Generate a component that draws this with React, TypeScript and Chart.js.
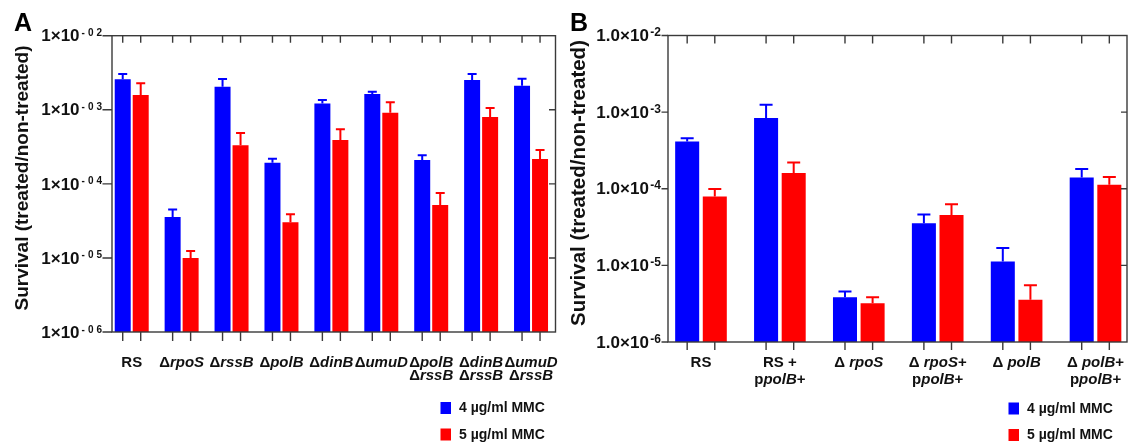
import { useEffect, useRef } from "react";
import { Chart, registerables } from "chart.js";

Chart.register(...registerables);

const FONT = '"Liberation Sans", Arial, sans-serif';

// ---------- Panel A data ----------
const categoriesA: string[][] = [
  ["RS"],
  ["Δ_rpoS_"],
  ["Δ_rssB_"],
  ["Δ_polB_"],
  ["Δ_dinB_"],
  ["Δ_umuD_"],
  ["Δ_polB_", "Δ_rssB_"],
  ["Δ_dinB_", "Δ_rssB_"],
  ["Δ_umuD_", "Δ_rssB_"],
];
const survivalA4 = [2.58e-3, 3.56e-5, 2.05e-3, 1.93e-4, 1.22e-3, 1.63e-3, 2.1e-4, 2.52e-3, 2.11e-3];
const survivalA4Upper = [3.04e-3, 4.5e-5, 2.6e-3, 2.19e-4, 1.36e-3, 1.75e-3, 2.43e-4, 3.04e-3, 2.63e-3];
const survivalA5 = [1.58e-3, 1.0e-5, 3.32e-4, 3.04e-5, 3.91e-4, 9.14e-4, 5.19e-5, 8.0e-4, 2.17e-4];
const survivalA5Upper = [2.28e-3, 1.24e-5, 4.86e-4, 3.9e-5, 5.46e-4, 1.26e-3, 7.5e-5, 1.06e-3, 2.87e-4];

// ---------- Panel B data ----------
const categoriesB: string[][] = [
  ["RS"],
  ["RS +", "p_polB_+"],
  ["Δ _rpoS_"],
  ["Δ _rpoS_+", "p_polB_+"],
  ["Δ _polB_"],
  ["Δ _polB_+", "p_polB_+"],
];
const survivalB4 = [4.15e-4, 8.4e-4, 3.85e-6, 3.55e-5, 1.12e-5, 1.4e-4];
const survivalB4Upper = [4.55e-4, 1.25e-3, 4.55e-6, 4.6e-5, 1.68e-5, 1.81e-4];
const survivalB5 = [7.9e-5, 1.6e-4, 3.2e-6, 4.55e-5, 3.55e-6, 1.13e-4];
const survivalB5Upper = [9.9e-5, 2.2e-4, 3.85e-6, 6.3e-5, 5.5e-6, 1.42e-4];

// ---------- Axis / legend text ----------
const yTickValues = [1e-2, 1e-3, 1e-4, 1e-5, 1e-6];
const yTickMainA = "1×10";
const yTickExpA = ["-02", "-03", "-04", "-05", "-06"];
const yTickMainB = "1.0×10";
const yTickExpB = ["-2", "-3", "-4", "-5", "-6"];
const yTitle = "Survival (treated/non-treated)";
const seriesLabels = ["4 µg/ml MMC", "5 µg/ml MMC"];
const seriesColors = ["#0000FF", "#FF0000"];
const panelLetters = ["A", "B"];

type PanelCfg = {
  letter: string;
  cats: string[][];
  values: number[][];
  uppers: number[][];
  tickMain: string;
  tickExp: string[];
  width: number;
  padding: { left: number; right: number; top: number; bottom: number };
  xMin: number;
  xMax: number;
  catPct: number;
  barPct: number;
  capW: number;
  leftTick: number;
  rightTick: number;
  topTick: number;
  bottomTick: number;
  mainFont: string;
  supFont: string;
  supSpacing: number;
  supGap: number;
  labelFont: number;
  labelBaselines: number[];
  titleFont: number;
  titleX: number;
  titleY: number;
  letterX: number;
  legendX: number;
  legendY: number[];
};

function segs(line: string): { t: string; it: boolean }[] {
  const parts = line.split("_");
  return parts.map((t, i) => ({ t, it: i % 2 === 1 })).filter((s) => s.t.length > 0);
}

function makePlugin(cfg: PanelCfg) {
  return {
    id: "panelDecor" + cfg.letter,
    afterDraw(chart: any) {
      const ctx: CanvasRenderingContext2D = chart.ctx;
      const { left, right, top, bottom } = chart.chartArea;
      const xs = chart.scales.x;
      const ys = chart.scales.y;
      ctx.save();

      // error bars
      chart.data.datasets.forEach((ds: any, di: number) => {
        const meta = chart.getDatasetMeta(di);
        const up = cfg.uppers[di];
        ctx.strokeStyle = ds.backgroundColor;
        ctx.lineWidth = 2;
        meta.data.forEach((bar: any, i: number) => {
          const ye = ys.getPixelForValue(up[i]);
          ctx.beginPath();
          ctx.moveTo(bar.x, bar.y);
          ctx.lineTo(bar.x, ye);
          ctx.moveTo(bar.x - cfg.capW / 2, ye);
          ctx.lineTo(bar.x + cfg.capW / 2, ye);
          ctx.stroke();
        });
      });

      // frame
      ctx.strokeStyle = "#3a3a3a";
      ctx.lineWidth = 1.4;
      ctx.strokeRect(left, top, right - left, bottom - top);

      // ticks
      ctx.beginPath();
      yTickValues.forEach((v, k) => {
        const y = ys.getPixelForValue(v);
        ctx.moveTo(left - cfg.leftTick, y);
        ctx.lineTo(left, y);
        if (k > 0 && k < yTickValues.length - 1) {
          ctx.moveTo(right - cfg.rightTick, y);
          ctx.lineTo(right, y);
        }
      });
      chart.data.datasets.forEach((_ds: any, di: number) => {
        const meta = chart.getDatasetMeta(di);
        meta.data.forEach((bar: any) => {
          ctx.moveTo(bar.x, top);
          ctx.lineTo(bar.x, top + cfg.topTick);
          ctx.moveTo(bar.x, bottom);
          ctx.lineTo(bar.x, bottom + cfg.bottomTick);
        });
      });
      ctx.stroke();

      // y tick labels
      ctx.fillStyle = "#111";
      yTickValues.forEach((v, k) => {
        const y = ys.getPixelForValue(v);
        const supRight = left - cfg.leftTick - 0.5;
        ctx.font = cfg.supFont;
        (ctx as any).letterSpacing = cfg.supSpacing + "px";
        const sw = ctx.measureText(cfg.tickExp[k]).width - cfg.supSpacing;
        ctx.textAlign = "left";
        ctx.textBaseline = "alphabetic";
        ctx.fillText(cfg.tickExp[k], supRight - sw, y + 0.5);
        (ctx as any).letterSpacing = "0px";
        ctx.font = cfg.mainFont;
        ctx.textAlign = "right";
        ctx.textBaseline = "middle";
        ctx.fillText(cfg.tickMain, supRight - sw - cfg.supGap, y + 1);
      });

      // x category labels
      ctx.textBaseline = "alphabetic";
      ctx.textAlign = "left";
      cfg.cats.forEach((lines, i) => {
        const cx = xs.getPixelForValue(i);
        lines.forEach((line, li) => {
          const ss = segs(line);
          const fonts = ss.map((s) => (s.it ? "italic " : "") + `bold ${cfg.labelFont}px ${FONT}`);
          let total = 0;
          const ws = ss.map((s, si) => {
            ctx.font = fonts[si];
            const w = ctx.measureText(s.t).width;
            total += w;
            return w;
          });
          let x = cx - total / 2;
          ss.forEach((s, si) => {
            ctx.font = fonts[si];
            ctx.fillText(s.t, x, cfg.labelBaselines[li]);
            x += ws[si];
          });
        });
      });

      // y title
      ctx.save();
      ctx.translate(cfg.titleX, cfg.titleY);
      ctx.rotate(-Math.PI / 2);
      ctx.font = `bold ${cfg.titleFont}px ${FONT}`;
      ctx.textAlign = "center";
      ctx.textBaseline = "middle";
      ctx.fillText(yTitle, 0, 0);
      ctx.restore();

      // panel letter
      ctx.font = `bold 25px ${FONT}`;
      ctx.textAlign = "left";
      ctx.textBaseline = "alphabetic";
      ctx.fillStyle = "#000";
      ctx.fillText(cfg.letter, cfg.letterX, 31);

      // legend
      chart.data.datasets.forEach((ds: any, di: number) => {
        const ly = cfg.legendY[di];
        ctx.fillStyle = ds.backgroundColor;
        ctx.fillRect(cfg.legendX, ly - 6, 10.5, 12);
        ctx.fillStyle = "#111";
        ctx.font = `bold 14px ${FONT}`;
        ctx.textBaseline = "middle";
        ctx.fillText(ds.label, cfg.legendX + 18.5, ly + 0.5);
      });

      ctx.restore();
    },
  };
}

function buildChart(canvas: HTMLCanvasElement, cfg: PanelCfg) {
  return new Chart(canvas, {
    type: "bar",
    data: {
      datasets: cfg.values.map((vals, di) => ({
        label: seriesLabels[di],
        data: vals.map((v, i) => ({ x: i, y: v })),
        backgroundColor: seriesColors[di],
        borderWidth: 0,
        categoryPercentage: cfg.catPct,
        barPercentage: cfg.barPct,
      })),
    },
    options: {
      responsive: false,
      animation: false,
      events: [],
      layout: { padding: cfg.padding },
      plugins: { legend: { display: false }, tooltip: { enabled: false } },
      scales: {
        x: {
          type: "linear",
          display: false,
          offset: false,
          min: cfg.xMin,
          max: cfg.xMax,
          ticks: { stepSize: 1, includeBounds: false },
        },
        y: {
          type: "logarithmic",
          display: false,
          min: 1e-6,
          max: 1e-2,
        },
      },
    },
    plugins: [makePlugin(cfg)],
  } as any);
}

const cfgA: PanelCfg = {
  letter: panelLetters[0],
  cats: categoriesA,
  values: [survivalA4, survivalA5],
  uppers: [survivalA4Upper, survivalA5Upper],
  tickMain: yTickMainA,
  tickExp: yTickExpA,
  width: 560,
  padding: { left: 112, right: 4.5, top: 35.7, bottom: 114 },
  xMin: -0.395,
  xMax: 8.49,
  catPct: 0.721,
  barPct: 0.889,
  capW: 9,
  leftTick: 9.5,
  rightTick: 6.5,
  topTick: 7,
  bottomTick: 9,
  mainFont: `bold 17px ${FONT}`,
  supFont: `bold 10px ${FONT}`,
  supSpacing: 3,
  supGap: 2,
  labelFont: 15,
  labelBaselines: [366.5, 380],
  titleFont: 19,
  titleX: 23,
  titleY: 178,
  letterX: 14,
  legendX: 440.5,
  legendY: [408, 434.5],
};

const cfgB: PanelCfg = {
  letter: panelLetters[1],
  cats: categoriesB,
  values: [survivalB4, survivalB5],
  uppers: [survivalB4Upper, survivalB5Upper],
  tickMain: yTickMainB,
  tickExp: yTickExpB,
  width: 569,
  padding: { left: 108, right: 2, top: 35.5, bottom: 104 },
  xMin: -0.418,
  xMax: 5.399,
  catPct: 0.7,
  barPct: 0.87,
  capW: 13,
  leftTick: 6.5,
  rightTick: 6,
  topTick: 8,
  bottomTick: 8,
  mainFont: `bold 17px ${FONT}`,
  supFont: `bold 12px ${FONT}`,
  supSpacing: 0,
  supGap: 1.5,
  labelFont: 15,
  labelBaselines: [367, 384],
  titleFont: 20.5,
  titleX: 19,
  titleY: 183,
  letterX: 10,
  legendX: 448.5,
  legendY: [408.5, 435],
};

export default function App() {
  const refA = useRef<HTMLCanvasElement | null>(null);
  const refB = useRef<HTMLCanvasElement | null>(null);

  useEffect(() => {
    const a = buildChart(refA.current!, cfgA);
    const b = buildChart(refB.current!, cfgB);
    return () => {
      a.destroy();
      b.destroy();
    };
  }, []);

  return (
    <div
      style={{
        position: "fixed",
        left: 0,
        top: 0,
        width: 1129,
        height: 446,
        background: "#fff",
        overflow: "hidden",
      }}
    >
      <canvas
        ref={refA}
        width={cfgA.width}
        height={446}
        style={{ position: "absolute", left: 0, top: 0, width: cfgA.width, height: 446 }}
      />
      <canvas
        ref={refB}
        width={cfgB.width}
        height={446}
        style={{ position: "absolute", left: 560, top: 0, width: cfgB.width, height: 446 }}
      />
    </div>
  );
}
